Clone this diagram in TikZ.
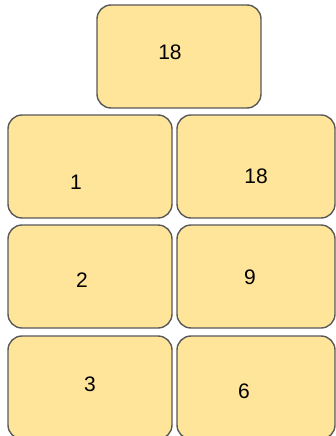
\documentclass[tikz,border=0pt]{standalone}
\usepackage{fontspec}
\setmainfont{Liberation Sans}
\usetikzlibrary{positioning}
\definecolor{cellfill}{HTML}{FFE599}
\definecolor{celldraw}{HTML}{595959}
\tikzset{
  cell/.style={draw=celldraw, fill=cellfill, line width=1.4pt,
    rounded corners=14pt, inner sep=0pt, minimum height=103pt},
  num/.style={font=\fontsize{21}{25}\selectfont, inner sep=0pt}
}
\begin{document}
\begin{tikzpicture}[x=1pt,y=-1pt]
  \useasboundingbox (0,0) rectangle (336,436);
  % box on top
  \node[cell, minimum width=164pt] (top) at (179,56.5) {};
  % three rows of pairs
  \foreach \r/\y in {1/166.5,2/276.5,3/387.5} {
    \node[cell, minimum width=164pt] (left\r) at (90,\y) {};
    \node[cell, minimum width=158pt] (right\r) at (256,\y) {};
  }
  \node[num] (n-top) at (170,52) {18};
  \foreach \n/\x/\y/\t in {l1/76/182/1, r1/256/176/18, l2/82/280/2,
                           r2/250/277/9, l3/90/384/3, r3/244/391/6}
    \node[num] (n-\n) at (\x,\y) {\t};
\end{tikzpicture}
\end{document}
